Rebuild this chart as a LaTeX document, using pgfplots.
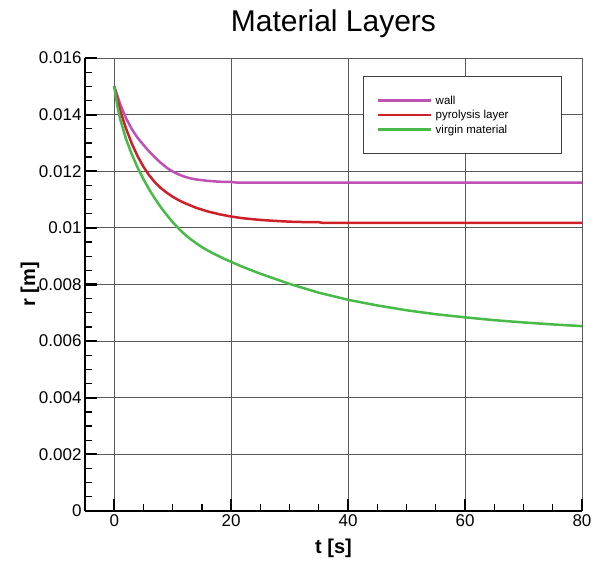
\documentclass[border=0pt]{standalone}
\usepackage{fontspec}
\setmainfont{Liberation Sans}
\usepackage{pgfplots}
\pgfplotsset{compat=1.18}
\definecolor{wallc}{RGB}{191,80,180}
\definecolor{pyroc}{RGB}{205,32,40}
\definecolor{virgc}{RGB}{72,186,72}
\begin{document}
\begin{tikzpicture}
\useasboundingbox (-85pt,-52pt) rectangle (513pt,511pt);
\begin{axis}[
  scale only axis, width=497pt, height=453pt,
  xmin=-5, xmax=80, ymin=0, ymax=0.016,
  axis x line=bottom, axis y line=left,
  axis line style={-, line width=2.2pt},
  xtick={0,20,40,60,80},
  ytick={0,0.002,0.004,0.006,0.008,0.010,0.012,0.014,0.016},
  yticklabels={0,0.002,0.004,0.006,0.008,0.01,0.012,0.014,0.016},
  scaled y ticks=false,
  minor x tick num=3, minor y tick num=3,
  tick align=inside,
  major tick length=12pt, minor tick length=7pt,
  major tick style={line width=2.2pt, black},
  minor tick style={line width=1.2pt, black},
  grid=major, major grid style={black!65, line width=0.8pt},
  /pgf/number format/assume math mode=true,
  tick label style={font=\fontsize{17}{20}\selectfont},
  xlabel={\bfseries t [s]},
  ylabel={\bfseries r [m]},
  xlabel style={font=\fontsize{20}{24}\selectfont, at={(axis description cs:0.5,0)}, anchor=center, yshift=-37pt},
  ylabel style={font=\fontsize{20}{24}\selectfont, at={(axis description cs:-0.1107,0.5)}, anchor=center},
  title={Material Layers},
  title style={font=\fontsize{30}{36}\selectfont, at={(axis description cs:0.5,1)}, anchor=base, yshift=20pt},
  legend style={at={(axis description cs:0.559,0.960)}, anchor=north west,
    draw=black!75, line width=0.8pt, fill=white,
    inner xsep=14pt, inner ysep=17pt,
    font=\fontsize{11.5}{13}\selectfont,
    nodes={inner xsep=3pt, inner ysep=0pt, text height=11pt, text depth=3.3pt}},
  legend cell align=left,
  legend image code/.code={\draw[#1, line width=2.5pt] (0pt,0pt) -- (53pt,0pt);},
]
\addplot[wallc, line width=2.5pt, mark=none] coordinates {
(0,0.01500) (1,0.01438) (2,0.01388) (3,0.01349) (4,0.01318) (5,0.01293)
(6,0.01269) (7,0.01248) (8,0.01229) (9,0.01212) (10,0.01199) (11,0.01189)
(12,0.01181) (13,0.01175) (14,0.01171) (16,0.01166) (18,0.01163) (20,0.01162)
(21,0.01160) (30,0.01160) (40,0.01160) (50,0.01160) (60,0.01160) (70,0.01160) (80,0.01160)};
\addlegendentry{\makebox[109pt][l]{wall}}
\addplot[pyroc, line width=2.5pt, mark=none] coordinates {
(0,0.01500) (1,0.01415) (2,0.01352) (3,0.01298) (4,0.01253) (5,0.01216)
(6,0.01185) (7,0.01160) (8,0.01140) (9,0.01124) (10,0.01110) (11,0.01098)
(12,0.01088) (14,0.01071) (16,0.01058) (18,0.01048) (20,0.01040) (22,0.01034)
(25,0.01028) (28,0.01024) (31,0.01021) (35,0.01020) (35.5,0.01018) (40,0.01018)
(50,0.01018) (60,0.01018) (70,0.01018) (80,0.01018)};
\addlegendentry{\makebox[109pt][l]{pyrolysis layer}}
\addplot[virgc, line width=2.5pt, mark=none] coordinates {
(0,0.01500) (0.5,0.01434) (1,0.01385) (2,0.01315) (3,0.01260) (4,0.01213)
(5,0.01172) (6,0.01135) (7,0.01102) (8,0.01072) (9,0.01045) (10,0.01020)
(11,0.00998) (12,0.00978) (13,0.00961) (14,0.00946) (15,0.00932) (16,0.00920)
(17,0.00909) (18,0.00899) (19,0.00889) (20,0.00880) (22,0.00862) (25,0.00838)
(30,0.00802) (35,0.00771) (40,0.00746) (45,0.00726) (50,0.00709) (55,0.00695)
(60,0.00684) (65,0.00674) (70,0.00666) (75,0.00659) (80,0.00653)};
\addlegendentry{\makebox[109pt][l]{virgin material}}
\end{axis}
\end{tikzpicture}
\end{document}
